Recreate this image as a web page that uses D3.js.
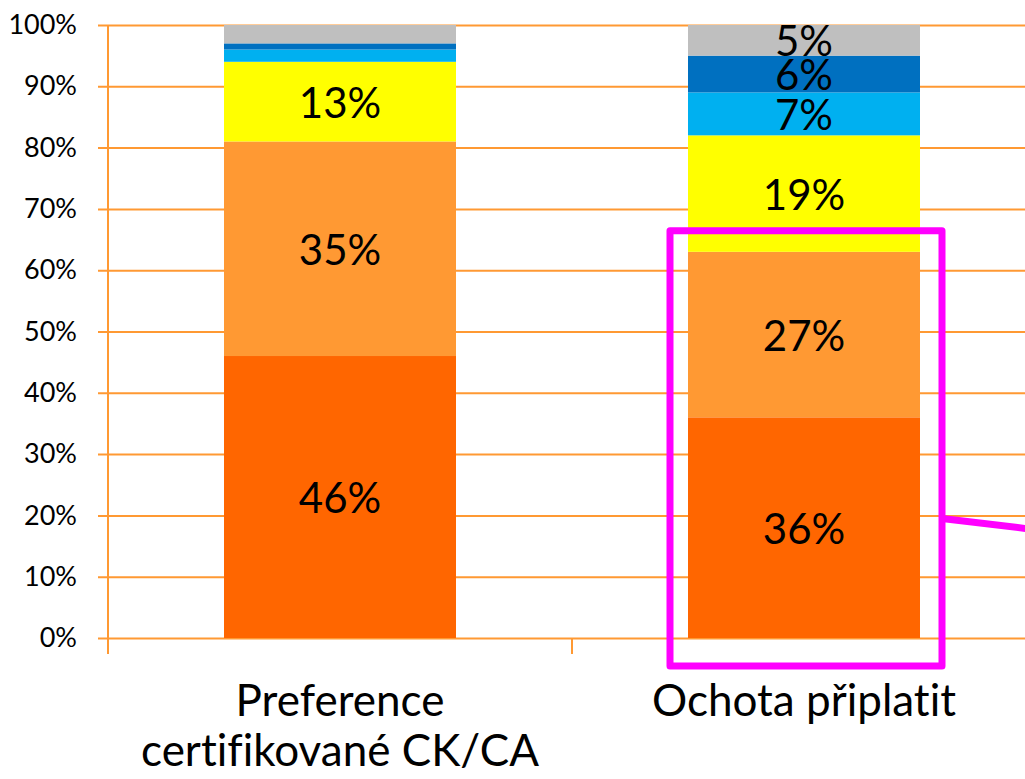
<!DOCTYPE html>
<html>
<head>
<meta charset="utf-8">
<script src="https://cdn.jsdelivr.net/npm/d3@7"></script>
<style>
  body { margin: 0; background: #fff; }
  svg { display: block; font-family: Lato, "Open Sans", sans-serif; font-variant-ligatures: none; }
</style>
</head>
<body>
<svg id="chart" width="1025" height="779"></svg>
<script>
"use strict";

// categories and stacked shares
var categories = ['Preference certifikované CK/CA', 'Ochota připlatit'];
var categoryLines = [['Preference', 'certifikované CK/CA'], ['Ochota připlatit']];
var seriesNames = ['s1', 's2', 's3', 's4', 's5', 's6'];
var seriesColors = ['#FF6600', '#FF9933', '#FFFF00', '#00B0F0', '#0070C0', '#BFBFBF'];
var valuesPreference = [0.46, 0.35, 0.13, 0.02, 0.01, 0.03];
var valuesOchota = [0.36, 0.27, 0.19, 0.07, 0.06, 0.05];
var labelShown = [[true, true, true, false, false, false], [true, true, true, true, true, true]];
var yTicks = [0, 0.1, 0.2, 0.3, 0.4, 0.5, 0.6, 0.7, 0.8, 0.9, 1.0];

var axisColor = '#FF9933';

function draw() {
  var svg = d3.select('#chart');
  var W = 1025;

  var x = d3.scaleBand().domain(categories)
    .range([108, 1036])
    .paddingInner(0.5)
    .paddingOuter(0.25);
  var y = d3.scaleLinear().domain([0, 1]).range([638, 25]);

  // gridlines + tick labels
  var yaxis = d3.axisLeft(y)
    .tickValues(yTicks)
    .tickFormat(d3.format('.0%'))
    .tickSizeInner(-(W - 98))
    .tickSizeOuter(0)
    .tickPadding(21);

  var gy = svg.append('g')
    .attr('transform', 'translate(98,0)')
    .call(yaxis);
  gy.select('.domain').remove();
  gy.selectAll('.tick line')
    .attr('stroke', axisColor)
    .attr('stroke-width', 2);
  gy.selectAll('.tick text')
    .attr('fill', '#000')
    .style('font-size', '27px')
    .style('font-family', 'Lato, sans-serif');

  // vertical axis line
  svg.append('line')
    .attr('x1', 108).attr('x2', 108)
    .attr('y1', y(1)).attr('y2', y(0) + 16)
    .attr('stroke', axisColor).attr('stroke-width', 2);

  // category boundary ticks
  var bounds = d3.range(categories.length + 1).map(function (i) {
    return x.range()[0] + i * x.step();
  });
  svg.selectAll('line.xtick').data(bounds.slice(1)).enter()
    .append('line')
    .attr('class', 'xtick')
    .attr('x1', d => d).attr('x2', d => d)
    .attr('y1', y(0)).attr('y2', y(0) + 16)
    .attr('stroke', axisColor).attr('stroke-width', 2);

  // stacked data
  var rows = categories.map(function (c, i) {
    var vals = i === 0 ? valuesPreference : valuesOchota;
    var row = { cat: c };
    seriesNames.forEach(function (s, j) { row[s] = vals[j]; });
    return row;
  });
  var stacked = d3.stack().keys(seriesNames)(rows);

  var layers = svg.append('g').selectAll('g')
    .data(stacked).enter().append('g')
    .attr('fill', (d, i) => seriesColors[i]);

  layers.selectAll('rect')
    .data(d => d)
    .enter().append('rect')
    .attr('x', d => x(d.data.cat))
    .attr('width', x.bandwidth())
    .attr('y', d => y(d[1]))
    .attr('height', d => y(d[0]) - y(d[1]));

  // data labels
  var fmt = d3.format('.0%');
  stacked.forEach(function (layer, si) {
    layer.forEach(function (d, ci) {
      if (!labelShown[ci][si]) return;
      svg.append('text')
        .attr('x', x(d.data.cat) + x.bandwidth() / 2)
        .attr('y', (y(d[0]) + y(d[1])) / 2)
        .attr('dy', '0.38em')
        .attr('text-anchor', 'middle')
        .style('font-size', '42px')
        .text(fmt(d[1] - d[0]));
    });
  });

  // category labels
  categories.forEach(function (c, i) {
    var t = svg.append('text')
      .attr('x', x(c) + x.bandwidth() / 2)
      .attr('y', 716)
      .attr('text-anchor', 'middle')
      .style('font-size', '44px');
    categoryLines[i].forEach(function (line, k) {
      t.append('tspan')
        .attr('x', x(c) + x.bandwidth() / 2)
        .attr('dy', k === 0 ? 0 : 50)
        .text(line);
    });
  });

  // highlight box around lower two segments of second bar
  var hc = categories[1];
  var hTop = y(valuesOchota[0] + valuesOchota[1]) - 21;
  var hx0 = x(hc) - 18, hx1 = x(hc) + x.bandwidth() + 22;
  var hy1 = y(0) + 28;
  svg.append('rect')
    .attr('x', hx0).attr('y', hTop)
    .attr('width', hx1 - hx0).attr('height', hy1 - hTop)
    .attr('fill', 'none')
    .attr('stroke', '#FF00FF')
    .attr('stroke-width', 7)
    .attr('stroke-linejoin', 'round');
  svg.append('line')
    .attr('x1', hx1).attr('y1', y(0.195))
    .attr('x2', hx1 + 100).attr('y2', y(0.195) + 12)
    .attr('stroke', '#FF00FF')
    .attr('stroke-width', 7);
}

draw();
</script>
</body>
</html>
